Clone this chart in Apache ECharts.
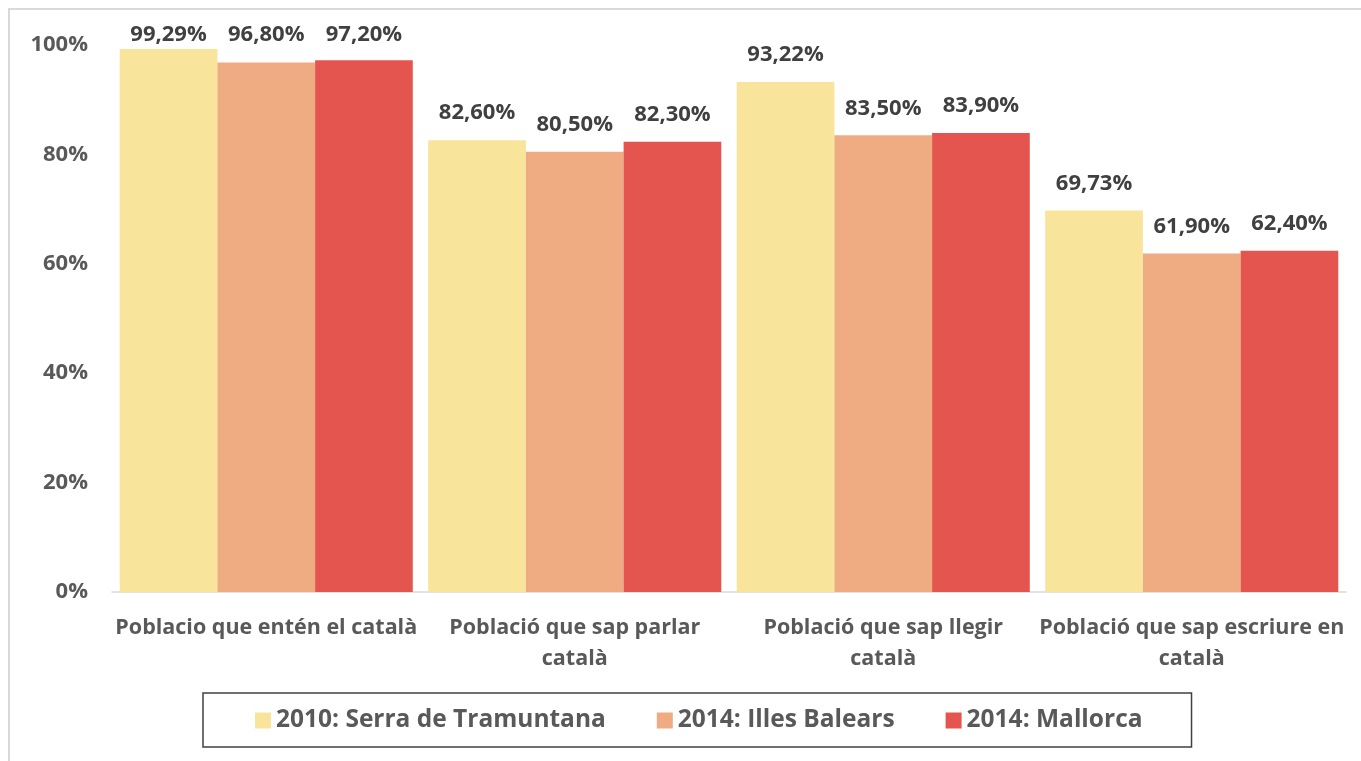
<!DOCTYPE html>
<html>
<head>
<meta charset="utf-8">
<script src="https://cdn.jsdelivr.net/npm/echarts@6/dist/echarts.min.js"></script>
<style>
  html, body { margin: 0; padding: 0; background: #fff; }
  #chart { width: 1361px; height: 761px; }
</style>
</head>
<body>
<div id="chart"></div>
<script>
const categories = [
  'Poblacio que entén el català',
  'Població que sap parlar\ncatalà',
  'Població que sap llegir\ncatalà',
  'Població que sap escriure en\ncatalà'
];
const seriesNames = ['2010: Serra de Tramuntana', '2014: Illes Balears', '2014: Mallorca'];
const serraTramuntana2010 = [99.29, 82.60, 93.22, 69.73];
const illesBalears2014 = [96.80, 80.50, 83.50, 61.90];
const mallorca2014 = [97.20, 82.30, 83.90, 62.40];
const yTicks = [0, 20, 40, 60, 80, 100];

const colors = ['#F8E49B', '#EFAC82', '#E55550'];
const font = '"Open Sans", "DejaVu Sans", sans-serif';

const chart = echarts.init(document.getElementById('chart'));

// etiqueta amb coma decimal
function fmt(p) {
  return p.value.toFixed(2).replace('.', ',') + '%';
}

function makeSeries(name, data, color) {
  return {
    name: name,
    type: 'bar',
    barGap: '0%',
    barCategoryGap: '5%',
    itemStyle: { color: color },
    label: {
      show: true,
      position: 'top',
      distance: 16,
      formatter: fmt,
      fontFamily: font,
      fontWeight: 'bold',
      fontSize: 22,
      color: '#404040'
    },
    data: data.map(function (v, i) {
      // primer grup: etiquetes totes a la mateixa alçada (topall superior)
      if (i === 0) {
        return { value: v, label: { offset: [0, v * 5.47 - 530] } };
      }
      return v;
    })
  };
}

const option = {
  backgroundColor: '#fff',
  animation: false,
  graphic: [{
    type: 'rect',
    shape: { x: 9, y: 9, width: 1400, height: 800 },
    style: { fill: 'none', stroke: '#d9d9d9', lineWidth: 2 },
    silent: true
  }],
  grid: { left: 112, right: 15, top: 45, bottom: 169 },
  legend: {
    bottom: 14,
    left: 203,
    itemWidth: 16,
    itemHeight: 16,
    itemGap: 51,
    padding: [15, 49, 14, 52],
    borderColor: '#404040',
    borderWidth: 1.5,
    borderRadius: 0,
    icon: 'rect',
    textStyle: {
      fontFamily: font,
      fontWeight: 'bold',
      fontSize: 24.5,
      color: '#595959'
    },
    data: seriesNames
  },
  xAxis: {
    type: 'category',
    data: categories,
    axisLine: { lineStyle: { color: '#d9d9d9', width: 1.5 } },
    axisTick: { show: false },
    axisLabel: {
      margin: 20,
      interval: 0,
      fontFamily: font,
      fontWeight: 'bold',
      fontSize: 21.5,
      lineHeight: 31,
      color: '#595959'
    }
  },
  yAxis: {
    type: 'value',
    min: yTicks[0],
    max: yTicks[yTicks.length - 1],
    interval: 20,
    axisLine: { show: false },
    axisTick: { show: false },
    splitLine: { show: false },
    axisLabel: {
      margin: 24,
      formatter: '{value}%',
      fontFamily: font,
      fontWeight: 'bold',
      fontSize: 22,
      color: '#595959'
    }
  },
  series: [
    makeSeries(seriesNames[0], serraTramuntana2010, colors[0]),
    makeSeries(seriesNames[1], illesBalears2014, colors[1]),
    makeSeries(seriesNames[2], mallorca2014, colors[2])
  ]
};

chart.setOption(option);
</script>
</body>
</html>
